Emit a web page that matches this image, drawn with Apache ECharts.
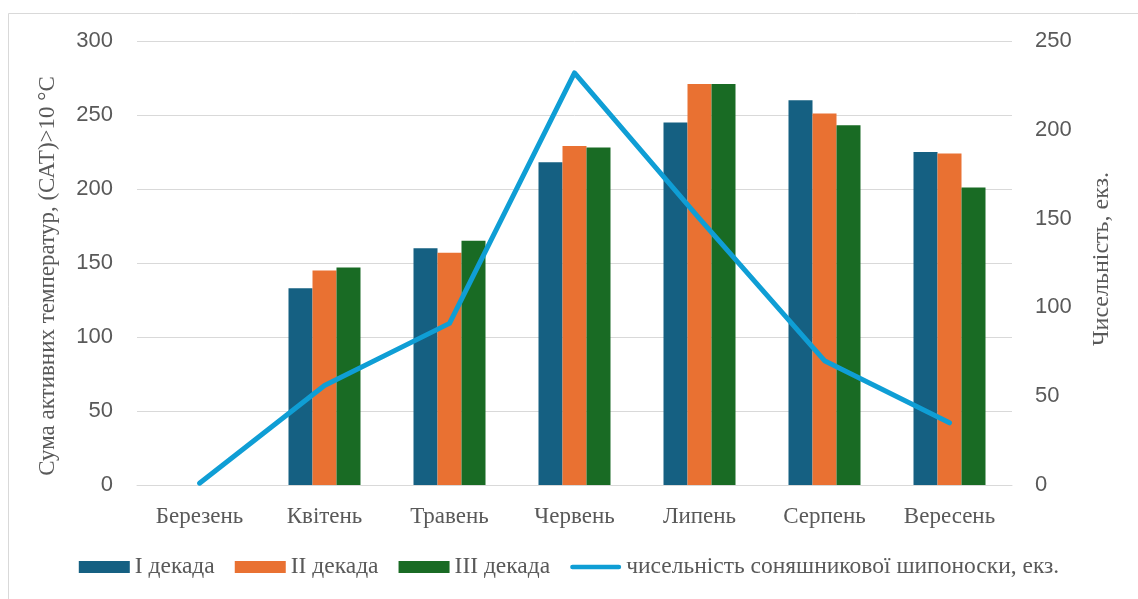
<!DOCTYPE html>
<html>
<head>
<meta charset="utf-8">
<script src="https://cdn.jsdelivr.net/npm/echarts@6/dist/echarts.min.js"></script>
<style>
html,body{margin:0;padding:0;background:#fff;}
#chart{width:1138px;height:599px;}
</style>
</head>
<body>
<div id="chart"></div>
<script>
var categories = ['Березень','Квітень','Травень','Червень','Липень','Серпень','Вересень'];
var decade1 = [0,133,160,218,245,260,225];
var decade2 = [0,145,157,229,271,251,224];
var decade3 = [0,147,165,228,271,243,201];
var pestCount = [1,56,91,232,150,70,35];
var leftTicks = {min:0,max:300,interval:50};
var rightTicks = {min:0,max:250,interval:50};
var seriesNames = ['І декада','ІІ декада','ІІІ декада','чисельність соняшникової шипоноски, екз.'];

var chart = echarts.init(document.getElementById('chart'), null, {renderer:'canvas'});
var serif = '"Liberation Serif","Times New Roman",serif';
var sans = '"Liberation Sans",Arial,sans-serif';
var lineIcon = 'path://M0,0L0.01,0L0.01,0.01Z M0,12L0.01,12L0.01,11.99Z M2.5,3.5L53.5,3.5A2.5,2.5 0 0 1 53.5,8.5L2.5,8.5A2.5,2.5 0 0 1 2.5,3.5Z';
chart.setOption({
  animation:false,
  backgroundColor:'#ffffff',
  graphic:[{type:'rect',left:6,top:11,shape:{width:1150,height:610},style:{fill:'none',stroke:'#d9d9d9',lineWidth:1}}],
  grid:{left:137,right:126,top:41,bottom:114},
  legend:{
    bottom:15,left:'center',
    itemWidth:51,itemHeight:12,itemGap:20,
    textStyle:{fontFamily:serif,fontSize:23.5,color:'#595959'},
    data:[
      {name:seriesNames[0],icon:'rect'},
      {name:seriesNames[1],icon:'rect'},
      {name:seriesNames[2],icon:'rect'},
      {name:seriesNames[3],icon:lineIcon}
    ]
  },
  xAxis:{
    type:'category',data:categories,
    axisTick:{show:false},
    axisLine:{lineStyle:{color:'#d9d9d9',width:1}},
    axisLabel:{fontFamily:serif,fontSize:23,color:'#595959',margin:20}
  },
  yAxis:[
    {type:'value',min:leftTicks.min,max:leftTicks.max,interval:leftTicks.interval,
     name:'Сума активних температур, (САТ)>10 °С',nameLocation:'middle',nameGap:78,nameRotate:90,
     nameTextStyle:{fontFamily:serif,fontSize:23,color:'#595959',padding:[0,0,0,-26]},
     axisLabel:{fontFamily:sans,fontSize:22,color:'#595959',margin:24},
     splitLine:{lineStyle:{color:'#d9d9d9',width:1}},
     axisLine:{show:false},axisTick:{show:false}},
    {type:'value',min:rightTicks.min,max:rightTicks.max,interval:rightTicks.interval,
     name:'Чисельність, екз.',nameLocation:'middle',nameGap:78,nameRotate:90,
     nameTextStyle:{fontFamily:serif,fontSize:24,color:'#595959',padding:[0,0,0,8]},
     axisLabel:{fontFamily:sans,fontSize:22,color:'#595959',margin:23},
     splitLine:{show:false},axisLine:{show:false},axisTick:{show:false}}
  ],
  series:[
    {name:seriesNames[0],type:'bar',data:decade1,barWidth:24,barGap:'0%',itemStyle:{color:'#156082'}},
    {name:seriesNames[1],type:'bar',data:decade2,barWidth:24,barGap:'0%',itemStyle:{color:'#E97132'}},
    {name:seriesNames[2],type:'bar',data:decade3,barWidth:24,barGap:'0%',itemStyle:{color:'#196B24'}},
    {name:seriesNames[3],type:'line',yAxisIndex:1,data:pestCount,symbol:'none',
     lineStyle:{color:'#0F9ED5',width:5,cap:'round',join:'round'},itemStyle:{color:'#0F9ED5'}}
  ]
});
</script>
</body>
</html>
